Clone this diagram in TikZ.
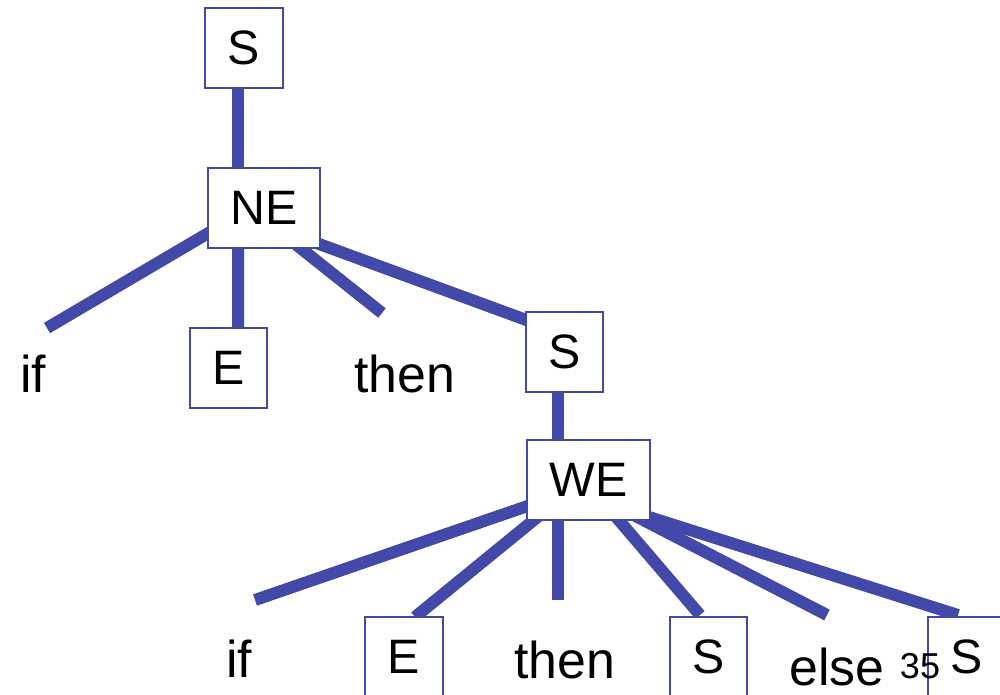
\documentclass[tikz,border=0pt]{standalone}
\usepackage{fontspec}
\setmainfont{Liberation Sans}
\pgfdeclarelayer{background}
\pgfsetlayers{background,main}
\definecolor{treeblue}{RGB}{67,73,168}

\begin{document}
\begin{tikzpicture}[x=0.02cm,y=-0.02cm,
  sym/.style={draw=treeblue,line width=1.1pt,fill=white,inner xsep=0.45cm,inner ysep=0pt,minimum height=1.6cm,font=\fontsize{27.5}{33}\selectfont},
  word/.style={anchor=base,inner sep=0pt,font=\fontsize{29.5}{35}\selectfont},
  branch/.style={draw=treeblue,line width=0.24cm}]

\useasboundingbox (0,0) rectangle (1000,694);

\begin{scope}
\node [sym] (s0) at (244,48) {S};
\node [sym] (ne) at (264,208) {NE};
\node [word] (if1) at (33,392) {if};
\node [sym] (e1) at (228.5,368) {E};
\node [word] (then1) at (405,392) {then};
\node [sym] (s1) at (564.5,352) {S};
\end{scope}

\begin{scope}
\node [sym] (we) at (588.5,480) {WE};
\node [word] (if2) at (239,677) {if};
\node [sym] (e2) at (404,657) {E};
\node [word] (then2) at (565,678) {then};
\node [sym] (s2) at (708.5,657) {S};
\node [word] (else2) at (837,685) {else};
\node [sym] (s3) at (967,657) {S};
\end{scope}

\node [anchor=base,inner sep=0pt,font=\fontsize{20.5}{24}\selectfont] (pagenum) at (920,678) {35};

\begin{pgfonlayer}{background}
\draw [branch] ([shift={(-6,0)}]s0.center) -- ([shift={(-26,0)}]ne.center);
\draw [branch] ([shift={(-42,17)}]ne.center) -- ([shift={(14,-64)}]if1.base);
\draw [branch] ([shift={(-26,0)}]ne.center) -- ([shift={(9.5,0)}]e1.north);
\draw [branch] ([shift={(20,27)}]ne.center) -- ([shift={(-23,-79)}]then1.base);
\draw [branch] ([shift={(36,29)}]ne.center) -- ([shift={(-24.5,-27)}]s1.center);
\draw [branch] ([shift={(-6.5,0)}]s1.center) -- ([shift={(-30.5,0)}]we.center);

\draw [branch] ([shift={(-43.5,20)}]we.center) -- ([shift={(16,-77)}]if2.base);
\draw [branch] ([shift={(-48.5,35)}]we.center) -- ([shift={(11,-40)}]e2.center);
\draw [branch] ([shift={(-30.5,0)}]we.center) -- ([shift={(-7,-78)}]then2.base);
\draw [branch] ([shift={(16.5,24)}]we.center) -- ([shift={(-8.5,-42)}]s2.center);
\draw [branch] ([shift={(31.5,28)}]we.center) -- ([shift={(-10,-70)}]else2.base);
\draw [branch] ([shift={(41.5,31)}]we.center) -- ([shift={(-9,-42)}]s3.center);
\end{pgfonlayer}

\end{tikzpicture}
\end{document}
